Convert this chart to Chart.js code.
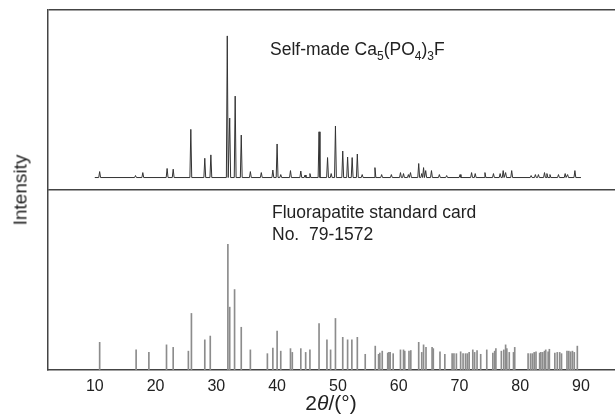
<!DOCTYPE html>
<html>
<head>
<meta charset="utf-8">
<script src="https://cdn.jsdelivr.net/npm/chart.js@4/dist/chart.umd.min.js"></script>
<style>
  html, body { margin: 0; padding: 0; background: #fff; }
  #wrap { position: relative; width: 615px; height: 415px; font-family: "Liberation Sans", Arial, sans-serif; color: #222; }
  #wrap canvas { position: absolute; left: 0; top: 0; }
  .lbl { position: absolute; white-space: nowrap; font-size: 17.5px; line-height: 1; }
  .lbl sub { font-size: 12px; vertical-align: -5px; line-height: 0; }
  #ytitle { left: 20px; top: 190px; transform: translate(-50%, -50%) rotate(-90deg); font-size: 19px; }
  #xtitle { left: 331px; top: 402px; transform: translate(-50%, -50%); font-size: 21px; }
</style>
</head>
<body>
<div id="wrap">
  <canvas id="xrd" width="615" height="415"></canvas>
  <div class="lbl" style="left:270px; top:41px;">Self-made Ca<sub>5</sub>(PO<sub>4</sub>)<sub>3</sub>F</div>
  <div class="lbl" style="left:272px; top:204px;">Fluorapatite standard card</div>
  <div class="lbl" style="left:272px; top:226px;">No.&nbsp; 79-1572</div>
  <div class="lbl" id="ytitle">Intensity</div>
  <div class="lbl" id="xtitle">2<i>θ</i>/(°)</div>
</div>
<script>
// x axis ticks
const xTicks = [10, 20, 30, 40, 50, 60, 70, 80, 90];

// self-made sample scan (2theta range, peak positions, relative intensity %)
const scanRange = [10.0, 90.0];
const samplePos = [10.8, 16.7, 17.9, 21.9, 22.9, 25.8, 28.1, 29.1, 31.8, 32.2, 33.1, 34.1, 35.6, 37.4,
    39.3, 40.0, 40.6, 42.2, 43.9, 44.6, 45.4, 46.9, 48.3, 48.9, 49.6, 50.8, 51.6, 52.35, 53.2, 54.0,
    56.1, 57.2, 58.8, 60.3, 60.8, 61.6, 61.95, 63.3, 63.8, 64.1, 64.45, 65.4, 66.7, 67.9, 70.1, 72.0,
    72.6, 74.2, 75.6, 76.7, 77.2, 77.6, 78.6, 81.8, 82.5, 83.0, 84.0, 84.4, 84.9, 86.3, 87.4, 87.8, 89.0];
const sampleInt = [4.2, 1.4, 3.5, 6.4, 5.9, 34, 13.6, 16, 100, 42, 57.5, 30, 4.2, 3.5,
    5.3, 23.7, 2.1, 4.9, 4.6, 1.8, 2.8, 32.3, 14.1, 2.8, 36.4, 18.7, 14.5, 14.1, 16.6, 2.1,
    7, 2.1, 2.1, 3.5, 2.8, 2.1, 3.5, 9.9, 2.8, 7, 4.9, 4.9, 2.1, 1.4, 2.1, 3.5,
    2.8, 3.5, 2.8, 2.8, 4.9, 3.5, 4.9, 1.4, 2.1, 2.1, 3.5, 2.8, 2.1, 2.1, 2.8, 2.1, 4.9];

// fluorapatite standard card No. 79-1572 (2theta, I/I0 %)
const cardPos = [10.8, 16.8, 18.9, 21.8, 22.9, 25.4, 25.9, 28.1, 29.0, 31.9, 32.2, 33.0, 34.1, 35.6,
    38.4, 39.3, 40.0, 40.6, 42.2, 42.5, 43.9, 44.7, 45.4, 46.9, 48.2, 48.8, 49.6, 50.8, 51.6, 52.3,
    53.2, 54.5, 56.15, 56.7, 56.9, 57.3, 58.2, 58.4, 58.6, 59.1, 60.3, 60.8, 61.0, 61.7, 62.0, 63.3,
    63.8, 64.1, 64.5, 65.5, 65.7, 66.8, 67.6, 68.8, 69.1, 69.5, 70.2, 70.6, 71.0, 71.3, 71.6, 72.2,
    72.5, 72.9, 73.5, 74.5, 75.5, 75.8, 76.0, 76.9, 77.3, 77.6, 77.8, 78.2, 78.9, 79.1, 81.3, 81.7,
    82.0, 82.3, 82.6, 83.2, 83.4, 83.7, 84.0, 84.2, 84.6, 84.8, 85.7, 86.1, 86.5, 86.8, 87.7, 88.0,
    88.3, 88.6, 88.9, 89.4];
const cardInt = [22, 16, 14, 20, 18, 15, 45, 24, 27, 100, 50, 64, 34, 16,
    13, 17.5, 31, 15, 17, 14, 17, 14, 16, 37, 24, 16, 41, 26, 24, 24,
    26, 12.5, 19, 12.5, 13.5, 15, 13.5, 14, 14, 13, 16, 16, 15, 15, 15.5, 22,
    14, 20, 18, 18, 17, 14.5, 12.5, 13, 13, 13, 14.5, 13, 13, 13, 14, 16,
    14, 15.5, 12.5, 16, 13.5, 15, 17, 15, 16, 20, 17, 14, 14, 18, 13, 13,
    13, 14, 14.5, 13.5, 14, 14, 15, 16, 14.5, 16.5, 13.5, 14, 14, 13, 15, 15,
    14.5, 15, 14, 19];

const peakHalfWidth = 0.15;
const frameColor = '#444';
const fontFamily = '"Liberation Sans", Arial, sans-serif';

// build the scan line: baseline between peaks, a spike at each peak
const sampleLine = [{ x: scanRange[0], y: 0 }];
samplePos.forEach((p, i) => {
    sampleLine.push({ x: p - peakHalfWidth, y: 0 });
    sampleLine.push({ x: p, y: sampleInt[i] });
    sampleLine.push({ x: p + peakHalfWidth, y: 0 });
});
sampleLine.push({ x: scanRange[1], y: 0 });

const cardSticks = cardPos.map((p, i) => ({ x: p, y: cardInt[i] }));

// only a line at the top of each panel (top frame / divider)
function topLineOnly(axis) {
    axis.ticks = [{ value: axis.max }];
}
function panelAxis(min, max) {
    return {
        type: 'linear',
        position: 'left',
        stack: 'panels',
        stackWeight: 1,
        min: min,
        max: max,
        afterBuildTicks: topLineOnly,
        afterFit: (scale) => { scale.width = 48; },
        ticks: { display: false },
        grid: { color: frameColor, lineWidth: 1.5, drawTicks: false },
        border: { display: true, color: frameColor, width: 1.5 },
    };
}

new Chart(document.getElementById('xrd'), {
    type: 'line',
    data: {
        datasets: [
            {
                type: 'line',
                label: 'Self-made',
                data: sampleLine,
                yAxisID: 'ySample',
                borderColor: '#333',
                borderWidth: 1,
                pointRadius: 0,
                tension: 0,
            },
            {
                type: 'bar',
                label: 'Card 79-1572',
                data: cardSticks,
                yAxisID: 'yCard',
                backgroundColor: '#8c8c8c',
                barThickness: 1,
            },
        ],
    },
    options: {
        responsive: false,
        animation: false,
        layout: { padding: { top: 10, right: 0, left: 0, bottom: 0 } },
        plugins: { legend: { display: false }, tooltip: { enabled: false } },
        scales: {
            x: {
                type: 'linear',
                min: 2.3,
                max: 95.6,
                offset: false,
                afterBuildTicks: (axis) => { axis.ticks = xTicks.map((v) => ({ value: v })); },
                afterFit: (scale) => { scale.height = 45; },
                ticks: { color: '#222', font: { family: fontFamily, size: 16 }, padding: 7, maxRotation: 0 },
                grid: { display: false, drawTicks: false },
                border: { display: true, color: frameColor, width: 1.5 },
            },
            yCard: panelAxis(0, 143.2),
            ySample: panelAxis(-8.8, 118.3),
        },
    },
});
</script>
</body>
</html>
